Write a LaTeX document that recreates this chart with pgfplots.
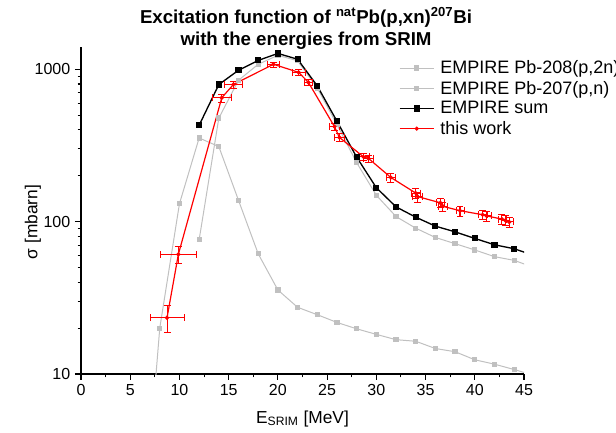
\documentclass[border=0pt]{standalone}
\usepackage{fontspec}
\setmainfont{Liberation Sans}
\usepackage{pgfplots}
\usepackage{pgfplotstable}
\pgfplotsset{compat=1.18}
\definecolor{lgray}{RGB}{192,192,192}
\definecolor{ered}{RGB}{255,0,0}

\pgfplotstableread{
x y
12 76
14 478
16 847
18 1078
20 1235
22 1137
24 753
26 434
28 244
30 149
32 108
34 90.6
36 78.7
38 71.7
40 65.2
42 58.9
44 55.7
46 50
}\tabA
\pgfplotstableread{
x y
7 3.2
8 20
10 131
12 354
14 311
16 138
18 61.5
20 35.6
22 27.4
24 24.5
26 21.8
28 19.8
30 18.2
32 16.8
34 16.4
36 14.7
38 14.0
40 12.4
42 11.6
44 10.7
46 9.8
}\tabB
\pgfplotstableread{
x y
12 429
14 794
16 985
18 1143
20 1270
22 1164
24 778
26 456
28 265
30 167
32 125
34 107
36 93.4
38 85.7
40 77.6
42 70.5
44 66.4
46 60
}\tabC
\pgfplotstableread{
x y ex ey
8.74 23.4 1.73 4.7
9.89 61 1.8 7.5
14.3 650 0.95 40
15.48 795 0.9 40
19.55 1078 0.62 40
22.1 955 0.68 40
23.1 820 0.4 40
25.75 420 0.5 25
26.25 357 0.5 22
28.7 266 0.55 14
29.2 260 0.5 14
31.47 195 0.45 13
34.0 154 0.5 11
34.2 146 0.5 11
36.5 133 0.45 9
36.75 126 0.45 9
38.5 118 0.4 9
40.8 111 0.45 8
41.2 109 0.45 8
42.75 104 0.4 8
43.1 102 0.4 8
43.5 99.5 0.4 8
}\tabD

\begin{document}
\begin{tikzpicture}
\begin{axis}[
  scale only axis, width=332.25pt, height=245.25pt,
  ymode=log, xmin=0, xmax=45, ymin=10, ymax=1400,
  axis lines*=left, axis line style={-, line width=0.8pt},
  tick align=outside, major tick length=4.5pt, minor tick length=2.5pt,
  tick style={black, line width=0.8pt},
  xtick={0,5,...,45}, minor x tick num=1,
  ytick={10,100,1000}, yticklabels={10,100,1000},
  minor ytick={20,30,40,50,60,70,80,90,200,300,400,500,600,700,800,900},
  /pgf/number format/assume math mode=true,
  ticklabel style={font=\fontsize{12}{14}\selectfont},
  xlabel={E\textsubscript{SRIM} [MeV]},
  ylabel={σ [mbarn]},
  label style={font=\fontsize{13}{15}\selectfont},
  xlabel style={at={(axis description cs:0.5,0)}, anchor=base, yshift=-36.75pt},
  ylabel style={at={(axis description cs:-0.1084,0.465)}, anchor=center},
  title={Excitation function of \textsuperscript{nat}Pb(p,xn)\textsuperscript{207}Bi\\with the energies from SRIM},
  title style={at={(axis description cs:0.508,1)}, anchor=south, yshift=-11.2pt, align=center, font=\fontsize{14}{16}\selectfont\bfseries},
  legend style={at={(axis description cs:0.718,0.9666)}, anchor=north west, draw=none, fill=none, inner sep=0pt, outer sep=0pt, row sep=0pt, font=\fontsize{13.5}{15}\selectfont,
    /tikz/every odd column/.append style={column sep=2.5pt}},
  legend cell align=left,
  legend image code/.code={\draw[mark repeat=2,mark phase=2,#1] plot coordinates {(0pt,0pt) (12.75pt,0pt) (25.5pt,0pt)};},
]
\addplot[lgray, line width=0.75pt, mark=square*, mark size=1.6pt, mark options={solid, fill=lgray}] table[x=x,y=y] {\tabA};
\addlegendentry{EMPIRE Pb-208(p,2n)}
\addplot[lgray, line width=0.75pt, mark=square*, mark size=1.6pt, mark options={solid, fill=lgray}] table[x=x,y=y] {\tabB};
\addlegendentry{EMPIRE Pb-207(p,n)}
\addplot[black, line width=1pt, mark=square*, mark size=1.8pt, mark options={solid, fill=black}] table[x=x,y=y] {\tabC};
\addlegendentry{EMPIRE sum}
\addplot[ered, line width=0.9pt, mark=*, mark size=1.1pt, mark options={solid, fill=ered},
  error bars/.cd, x dir=both, x explicit, y dir=both, y explicit,
  error bar style={line width=0.8pt, mark size=2.6pt}] table[x=x,y=y,x error=ex,y error=ey] {\tabD};
\addlegendentry{this work}
\end{axis}
\pgfresetboundingbox
\useasboundingbox (-60.75pt,-43.5pt) rectangle (401.25pt,280.5pt);
\end{tikzpicture}
\end{document}
